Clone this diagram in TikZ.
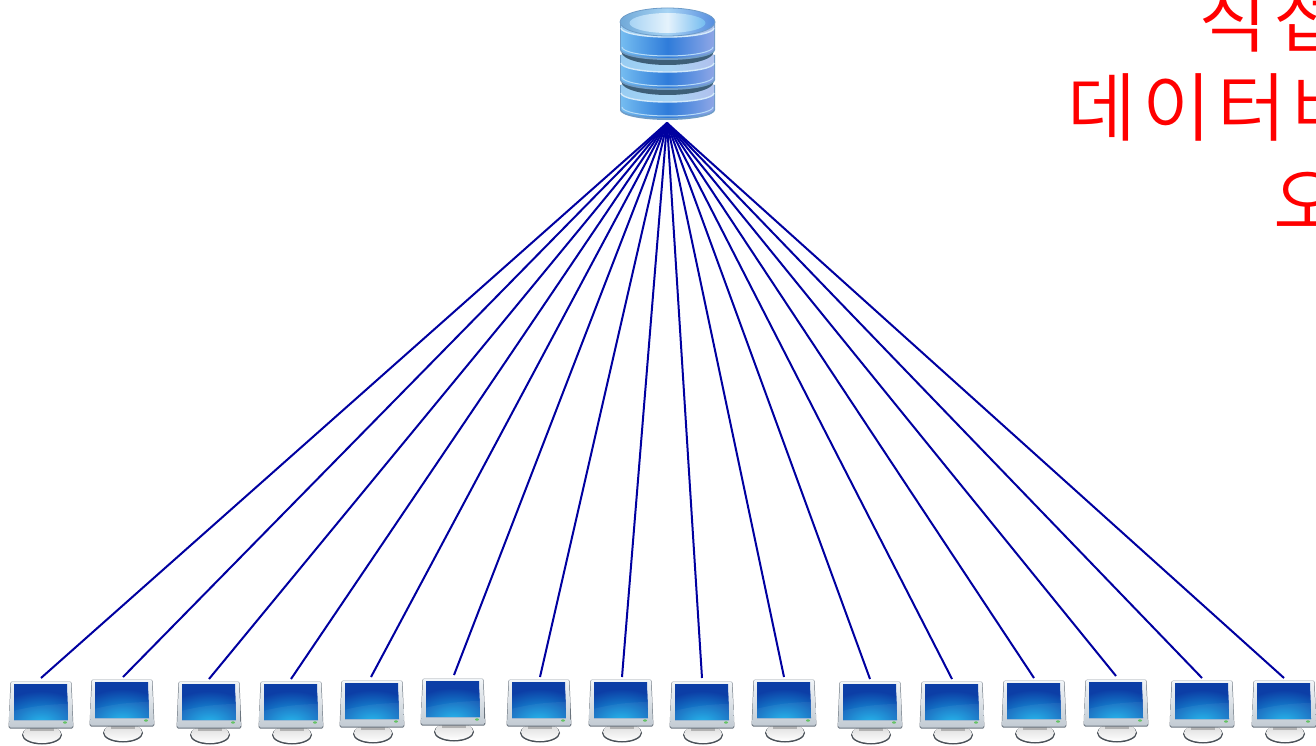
\documentclass[tikz,border=0pt]{standalone}
\usepackage{fontspec}
\newfontfamily\kofont[LetterSpace=8]{Noto Sans CJK KR DemiLight}
\definecolor{linkblue}{HTML}{0000A0}
\definecolor{txtred}{HTML}{FF0000}
\definecolor{scrdark}{HTML}{0C3EA6}
\definecolor{scrglow}{HTML}{1CB4EC}
\definecolor{dbl}{HTML}{74BCF0}
\definecolor{dbm}{HTML}{2F7CDA}
\definecolor{dbr}{HTML}{8EA6E6}
\definecolor{dbup}{HTML}{A8D4F4}
\definecolor{dbrim}{HTML}{D4EAFA}
\definecolor{dbdark}{HTML}{3E5F78}
\definecolor{dbedge}{HTML}{6E9CC8}
\definecolor{frtop}{HTML}{F2F5F8}
\definecolor{frbot}{HTML}{C2CBD3}
\definecolor{frdark}{HTML}{6A747E}
\tikzset{
  link/.style={draw=linkblue,line width=2pt},
  anchorpt/.style={inner sep=0pt,minimum size=0pt,outer sep=0pt},
  redtext/.style={text=txtred,font=\kofont\fontsize{75}{90}\selectfont,anchor=base west,inner sep=0pt},
  pics/monitor/.style={code={
    % stand
    \fill[frdark!70!black] (1,54) ellipse [x radius=20pt,y radius=9.5pt];
    \shade[top color=black!15,bottom color=white] (1,53) ellipse [x radius=19pt,y radius=9pt];
    \fill[black!30] (-11,47) rectangle (13,50);
    % frame
    \fill[frdark,rounded corners=1.5pt] (-30.5,0.5) -- (30.5,0.5) -- (32.5,47.5) -- (-32.5,47.5) -- cycle;
    \shade[top color=frtop,bottom color=frbot,rounded corners=1.5pt]
      (-30,0.5) -- (30,0.5) -- (32,46.5) -- (-32,46.5) -- cycle;
    % screen
    \begin{scope}
      \clip (-27,3) -- (26,3) -- (27,39) -- (-27,39) -- cycle;
      \fill[scrdark] (-28,2) rectangle (28,40);
      \shade[inner color=scrglow,outer color=scrdark] (0,42) ellipse [x radius=50pt,y radius=32pt];
      \fill[white,opacity=.05] (-28,30) .. controls (-8,25) and (10,23) .. (28,23) -- (28,40) -- (-28,40) -- cycle;
    \end{scope}
    % lamp
    \fill[green!60!black!60!white] (24,41.5) ellipse [x radius=2pt,y radius=1.2pt];
  }},
  disc/.style={left color=dbl,right color=dbr,middle color=dbm},
  discup/.style={left color=dbup!70!dbl,right color=dbr!70!white,middle color=dbup},
}
\newcommand{\dbdisc}[4]{% top edge y, bottom edge y, bulge, height of the light band
  \fill[dbedge] (620,#1) -- (620,#2) arc[start angle=180,end angle=360,x radius=47.5pt,y radius=#3 pt] -- (715,#1) -- cycle;
  \shade[disc] (621,#1) -- (621,#2-1) arc[start angle=180,end angle=360,x radius=46.5pt,y radius=#3 pt-1pt] -- (714,#1) -- cycle;
  \shade[discup] (621,#1) -- (621,#2-#4) arc[start angle=180,end angle=360,x radius=46.5pt,y radius=#3 pt-1pt] -- (714,#1) -- cycle;
  \draw[dbrim,line width=1.4pt] (621,#2-#4) arc[start angle=180,end angle=360,x radius=46.5pt,y radius=#3 pt-1pt];
  \draw[dbrim!70!dbl,line width=1pt] (622,#2-3) arc[start angle=180,end angle=360,x radius=45.5pt,y radius=#3 pt-1pt];
}
\begin{document}
\begin{tikzpicture}[x=1pt,y=-1pt]
\useasboundingbox (0,0) rectangle (1316,746);
\fill[white] (0,0) rectangle (1316,746);
% database: three stacked discs
\dbdisc{85}{110}{10}{17}
\fill[dbdark] (667.5,82) ellipse [x radius=46pt,y radius=13pt];
\dbdisc{55}{80}{10}{17}
\fill[dbdark] (667.5,52) ellipse [x radius=46pt,y radius=13pt];
\dbdisc{22}{50}{10}{22}
\shade[left color=dbedge!60!dbl,right color=dbm!60!dbr,middle color=dbup] (667.5,22) ellipse [x radius=47.5pt,y radius=14pt];
\draw[dbedge,line width=.8pt] (667.5,22) ellipse [x radius=47.5pt,y radius=14pt];
\shade[left color=dbup,right color=dbl,middle color=dbrim!60!white] (667.5,23) ellipse [x radius=38pt,y radius=10pt];
\coordinate (hub) at (667,123);
% monitors and links
\foreach \i/\mx/\my/\lx/\ly in {1/41/681/41/678,2/122/679/123/677,3/209/681/209/679,4/291/681/291/679,
  5/372/680/371/677,6/453/678/454/675,7/539/679/540/677,8/621/679/622/677,
  9/702/681/702/678,10/784/679/784/677,11/870/681/870/679,12/952/681/952/679,
  13/1034/680/1034/678,14/1116/679/1116/676,15/1202/680/1202/678,16/1284/680/1284/678}{
  \pic at (\mx,\my) {monitor};
  \node[anchorpt] (m\i) at (\lx,\ly) {};
  \draw[link] (hub) -- (m\i);
}
% clipped red caption
\begin{scope}
\clip (0,0) rectangle (1316,746);
\node[redtext] (t1) at (1198,47) {직접};
\node[redtext] (t2) at (1067,136) {데이터베};
\node[redtext] (t3) at (1273,229) {오};
\end{scope}
\end{tikzpicture}
\end{document}
